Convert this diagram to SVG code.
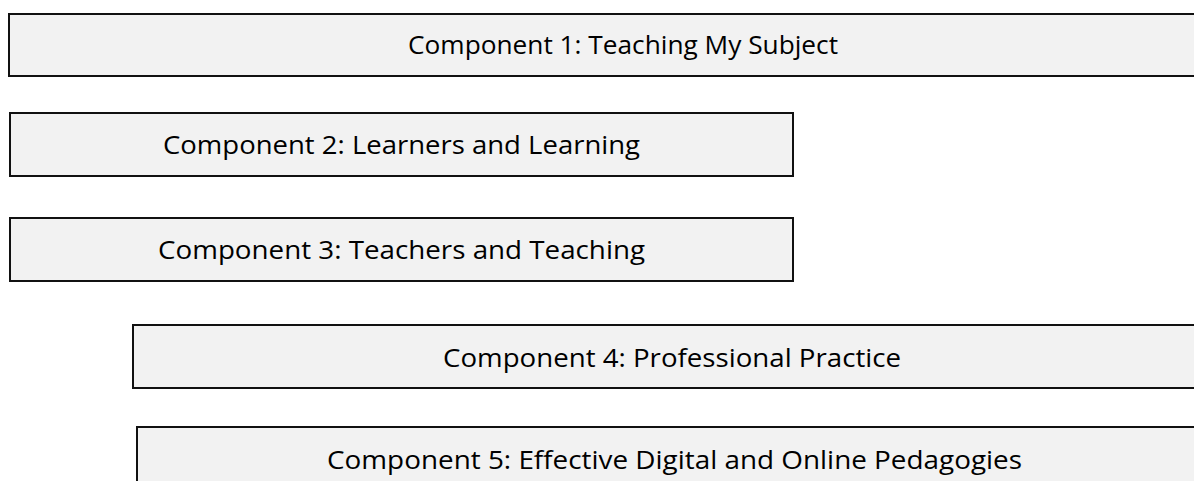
<svg xmlns="http://www.w3.org/2000/svg" width="1194" height="481" viewBox="0 0 1194 481">
<style>
.box{fill:#f2f2f2;stroke:#111;stroke-width:2}
.lbl{font-family:"Open Sans","Noto Sans","Liberation Sans",sans-serif;font-size:26px;fill:#000}
</style>
<rect x="0" y="0" width="1194" height="481" fill="#ffffff"/>
<g id="connectors"></g>
<g id="c1"><rect class="box" x="9" y="14" width="1200" height="62"/><text class="lbl" x="408" y="54" textLength="430" lengthAdjust="spacingAndGlyphs">Component 1: Teaching My Subject</text></g>
<g id="c2"><rect class="box" x="10" y="113" width="783" height="63"/><text class="lbl" x="163" y="154" textLength="477" lengthAdjust="spacingAndGlyphs">Component 2: Learners and Learning</text></g>
<g id="c3"><rect class="box" x="10" y="218" width="783" height="63"/><text class="lbl" x="158" y="259" textLength="487" lengthAdjust="spacingAndGlyphs">Component 3: Teachers and Teaching</text></g>
<g id="c4"><rect class="box" x="133" y="325" width="1080" height="63"/><text class="lbl" x="443" y="367" textLength="458" lengthAdjust="spacingAndGlyphs">Component 4: Professional Practice</text></g>
<g id="c5"><rect class="box" x="137" y="427" width="1080" height="80"/><text class="lbl" x="327" y="469" textLength="695" lengthAdjust="spacingAndGlyphs">Component 5: Effective Digital and Online Pedagogies</text></g>
</svg>
